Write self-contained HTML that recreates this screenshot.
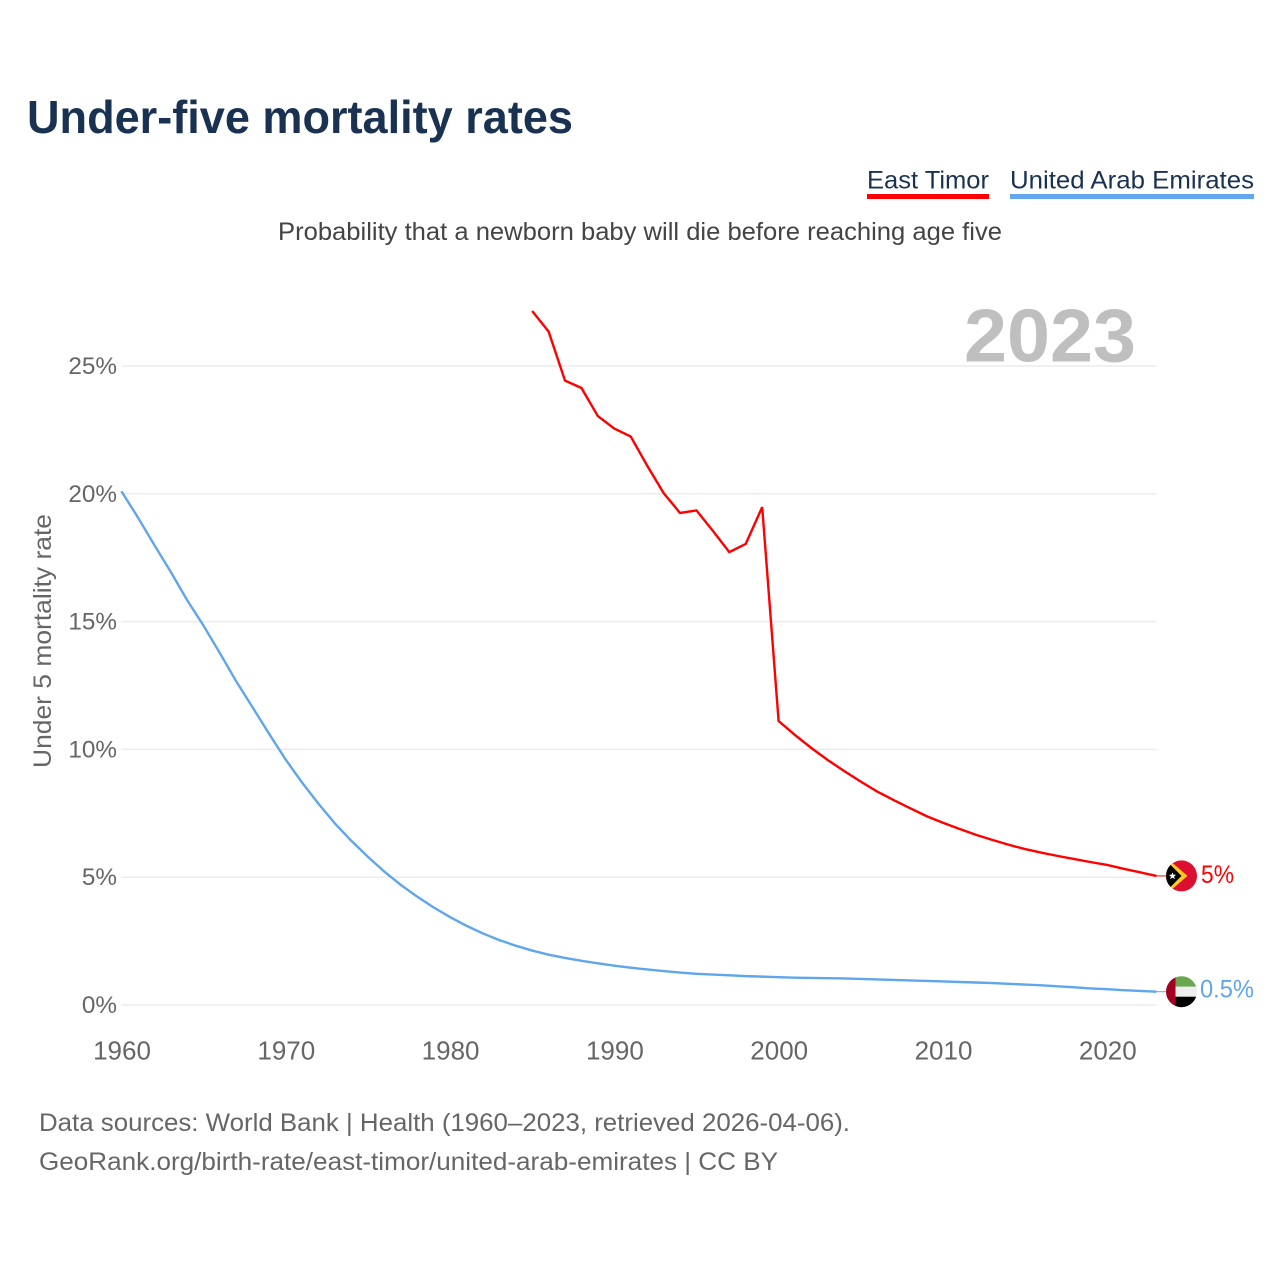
<!DOCTYPE html>
<html lang="en">
<head>
<meta charset="utf-8">
<title>Under-five mortality rates</title>
<style>
html,body{margin:0;padding:0;background:#fff;width:1280px;height:1280px;overflow:hidden}
svg{display:block;font-family:"Liberation Sans",sans-serif}
</style>
</head>
<body>
<svg id="chart" xmlns="http://www.w3.org/2000/svg" width="1280" height="1280" viewBox="0 0 1280 1280">
  <rect x="0" y="0" width="1280" height="1280" fill="#fff"/>
  <text x="27" y="133" font-size="46" font-weight="700" fill="#1a3252" textLength="546" lengthAdjust="spacingAndGlyphs">Under-five mortality rates</text>
  <g>
    <text x="867" y="188.5" font-size="25" fill="#1a3252" textLength="122" lengthAdjust="spacingAndGlyphs">East Timor</text>
    <rect x="867" y="194" width="122" height="5" fill="#ff0000"/>
  </g>
  <g>
    <text x="1010" y="188.5" font-size="25" fill="#1a3252" textLength="244" lengthAdjust="spacingAndGlyphs">United Arab Emirates</text>
    <rect x="1010" y="194" width="244" height="5" fill="#63a8ee"/>
  </g>
  <text x="278" y="240" font-size="25" fill="#444" textLength="724" lengthAdjust="spacingAndGlyphs">Probability that a newborn baby will die before reaching age five</text>
  <text x="964" y="361.5" font-size="75" font-weight="700" fill="#bfbfbf" textLength="172" lengthAdjust="spacingAndGlyphs">2023</text>
  <g id="grid"></g>
  <g id="yticks"></g>
  <g id="xticks"></g>
  <text transform="translate(51,768) rotate(-90)" x="0" y="0" font-size="25" fill="#666" textLength="254" lengthAdjust="spacingAndGlyphs">Under 5 mortality rate</text>
  <g id="series"></g>
  <defs>
    <clipPath id="flag-clip"><circle cx="0" cy="0" r="15.5"/></clipPath>
  </defs>
  <g id="flag-tl">
    <g clip-path="url(#flag-clip)">
      <rect x="-16" y="-16" width="32" height="32" fill="#dc0f30"/>
      <polygon points="-16,-19 6,0 -16,19" fill="#ffc726"/>
      <polygon points="-16,-16 0,0 -16,16" fill="#000"/>
      <polygon points="-9,-3.6 -8,-1.2 -5.4,-1.2 -7.4,0.6 -6.7,3.2 -9,1.7 -11.3,3.2 -10.6,0.6 -12.6,-1.2 -10,-1.2" fill="#fff"/>
    </g>
  </g>
  <g id="flag-ae">
    <g clip-path="url(#flag-clip)">
      <rect x="-6" y="-16" width="22" height="11" fill="#6aa84f"/>
      <rect x="-6" y="-5" width="22" height="11" fill="#eee"/>
      <rect x="-6" y="5" width="22" height="11" fill="#000"/>
      <rect x="-16" y="-16" width="10" height="32" fill="#a30022"/>
    </g>
  </g>
  <g id="endlabels"></g>
  <text x="39" y="1131" font-size="25" fill="#666" textLength="811" lengthAdjust="spacingAndGlyphs">Data sources: World Bank | Health (1960–2023, retrieved 2026-04-06).</text>
  <text x="39" y="1170" font-size="25" fill="#666" textLength="739" lengthAdjust="spacingAndGlyphs">GeoRank.org/birth-rate/east-timor/united-arab-emirates | CC BY</text>
</svg>
<script>
const yTicks = [0, 5, 10, 15, 20, 25];
const yTickLabels = ['0%', '5%', '10%', '15%', '20%', '25%'];
const xTicks = [1960, 1970, 1980, 1990, 2000, 2010, 2020];
const xTickLabels = ['1960', '1970', '1980', '1990', '2000', '2010', '2020'];

const uaeStartYear = 1960;
const uaeValues = [
  20.1, 19.08, 18.0, 16.95, 15.84, 14.84, 13.76, 12.65, 11.63, 10.6,
  9.6, 8.7, 7.87, 7.1, 6.42, 5.8, 5.22, 4.7, 4.24, 3.82,
  3.44, 3.1, 2.8, 2.54, 2.32, 2.13, 1.97, 1.84, 1.73, 1.63,
  1.54, 1.46, 1.39, 1.33, 1.27, 1.22, 1.19, 1.16, 1.13, 1.11,
  1.09, 1.07, 1.06, 1.05, 1.04, 1.02, 1.0, 0.98, 0.96, 0.94,
  0.92, 0.9, 0.88, 0.86, 0.83, 0.8, 0.77, 0.73, 0.69, 0.65,
  0.62, 0.58, 0.55, 0.52
];

const timorStartYear = 1985;
const timorValues = [
  27.15, 26.35, 24.43, 24.14, 23.04, 22.55, 22.24, 21.1, 20.03, 19.25,
  19.35, 18.55, 17.72, 18.04, 19.48, 11.11, 10.56, 10.05, 9.58, 9.15,
  8.74, 8.35, 8.02, 7.7, 7.39, 7.13, 6.89, 6.66, 6.46, 6.27,
  6.1, 5.96, 5.83, 5.71, 5.59, 5.48, 5.33, 5.19, 5.05
];

const timorEndLabel = '5%';
const uaeEndLabel = '0.5%';

const NS = 'http://www.w3.org/2000/svg';
const X0 = 121.4, X1 = 1156.5, YEAR0 = 1960, YEAR1 = 2023;
const Y0 = 1005, PX_PER_PCT = 25.56;
function xScale(year) { return X0 + (year - YEAR0) * (X1 - X0) / (YEAR1 - YEAR0); }
function yScale(v) { return Y0 - v * PX_PER_PCT; }
function make(tag, attrs, parent) {
  const el = document.createElementNS(NS, tag);
  for (const k in attrs) el.setAttribute(k, attrs[k]);
  parent.appendChild(el);
  return el;
}

const gridG = document.getElementById('grid');
const yG = document.getElementById('yticks');
const xG = document.getElementById('xticks');
const seriesG = document.getElementById('series');
const endG = document.getElementById('endlabels');

yTicks.forEach(function (v, i) {
  const line = make('line', {x1: X0, x2: X1, y1: yScale(v), y2: yScale(v), stroke: '#ececec', 'stroke-width': 1.5}, gridG);
  
  
  const t = make('text', {x: 117, y: yScale(v) + 8, 'text-anchor': 'end', 'font-size': 24.3, fill: '#666'}, yG);
  
  
  t.textContent = yTickLabels[i];
});

xTicks.forEach(function (yr, i) {
  const t = make('text', {x: xScale(yr) + 0.6, y: 1059.5, 'text-anchor': 'middle', 'font-size': 26, fill: '#666'}, xG);
  
  
  t.textContent = xTickLabels[i];
});

function linePoints(start, vals) {
  return vals.map(function (v, i) {
    return xScale(start + i).toFixed(2) + ',' + yScale(v).toFixed(2);
  }).join(' ');
}

const uaeLine = make('polyline', {points: linePoints(uaeStartYear, uaeValues), fill: 'none', stroke: '#5fa6ec', 'stroke-width': 2.4, 'stroke-linejoin': 'round'}, seriesG);



const timorLine = make('polyline', {points: linePoints(timorStartYear, timorValues), fill: 'none', stroke: '#ff0000', 'stroke-width': 2.4, 'stroke-linejoin': 'miter'}, seriesG);



const timorEndY = yScale(timorValues[timorValues.length - 1]);
const uaeEndY = yScale(uaeValues[uaeValues.length - 1]);

const timorLeader = make('line', {x1: X1, x2: 1166, y1: timorEndY, y2: timorEndY, stroke: '#ff0000', 'stroke-width': 1}, seriesG);



const uaeLeader = make('line', {x1: X1, x2: 1166, y1: uaeEndY, y2: uaeEndY, stroke: '#5fa6ec', 'stroke-width': 1}, seriesG);



document.getElementById('flag-tl').setAttribute('transform', 'translate(1181.5,' + timorEndY.toFixed(2) + ')');
document.getElementById('flag-ae').setAttribute('transform', 'translate(1181.5,' + uaeEndY.toFixed(2) + ')');

const timorText = make('text', {x: 1201, y: timorEndY + 7, 'font-size': 25, fill: '#ff0000', textLength: 33, lengthAdjust: 'spacingAndGlyphs'}, endG);


timorText.textContent = timorEndLabel;

const uaeText = make('text', {x: 1200, y: uaeEndY + 6, 'font-size': 25, fill: '#5fa6ec', textLength: 54, lengthAdjust: 'spacingAndGlyphs'}, endG);


uaeText.textContent = uaeEndLabel;
</script>
</body>
</html>
